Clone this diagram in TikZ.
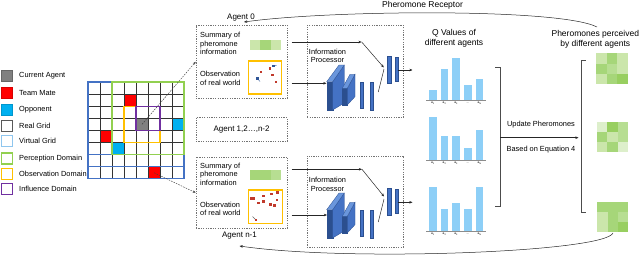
\documentclass[tikz,border=0pt]{standalone}
\usepackage{fontspec}
\setmainfont{Liberation Sans}
\usetikzlibrary{arrows.meta}
\definecolor{gBlue}{HTML}{4472C4}
\definecolor{dBlue}{HTML}{2B4F8F}
\definecolor{tBlue}{HTML}{6A96DC}
\definecolor{vBlue}{HTML}{8FC6EE}
\definecolor{qBlue}{HTML}{8DCFF7}
\definecolor{cyanO}{HTML}{00B0F0}
\definecolor{perG}{HTML}{92D050}
\definecolor{obsO}{HTML}{FFC000}
\definecolor{infP}{HTML}{7030A0}
\definecolor{redT}{HTML}{FF0000}
\definecolor{dotR}{HTML}{C0392B}
\definecolor{dotB}{HTML}{2F5597}
\definecolor{gA}{HTML}{DDEFCB}
\definecolor{gB}{HTML}{CBE6AB}
\definecolor{gC}{HTML}{B7DE92}
\definecolor{gD}{HTML}{A6D679}
\definecolor{gE}{HTML}{98CF60}
\newcommand\obsdot[3]{\fill[#3] ({#1-1.2},{#2-1.2}) rectangle ({#1+1.2},{#2+1.2});}
\newcommand\qchart[6]{%
  \fill[qBlue] (429,#1) rectangle (436.7,{#1-#2});
  \fill[qBlue] (440.7,#1) rectangle (448.3,{#1-#3});
  \fill[qBlue] (452.3,#1) rectangle (460,{#1-#4});
  \fill[qBlue] (464,#1) rectangle (471.7,{#1-#5});
  \fill[qBlue] (475.7,#1) rectangle (483.3,{#1-#6});
  \draw[black!45, line width=0.6pt] (426,#1) -- (486,#1);
  \node[tiny] at (432.9,{#1+3.6}) {a\textsubscript{1}};
  \node[tiny] at (444.5,{#1+3.6}) {a\textsubscript{2}};
  \node[tiny] at (456.2,{#1+3.6}) {a\textsubscript{3}};
  \node[tiny] at (467.9,{#1+3.6}) {...};
  \node[tiny] at (479.5,{#1+3.6}) {a\textsubscript{N}};
}
\newcommand\procnet[2]{%
  \begin{scope}[yshift=-#1pt]
    \filldraw[fill=dBlue, draw=dBlue] (326.7,81.7) rectangle (332.7,110);
    \filldraw[fill=gBlue, draw=dBlue, line width=0.3pt] (332.7,81.7) -- (344.3,65) -- (344.3,103) -- (332.7,110) -- cycle;
    \filldraw[fill=tBlue, draw=dBlue, line width=0.3pt] (326.7,81.7) -- (339,65) -- (344.3,65) -- (332.7,81.7) -- cycle;
    \filldraw[fill=dBlue, draw=dBlue] (342.3,88.3) rectangle (347.3,105);
    \filldraw[fill=gBlue, draw=dBlue, line width=0.3pt] (347.3,88.3) -- (355,74.3) -- (355,96.7) -- (347.3,105) -- cycle;
    \filldraw[fill=tBlue, draw=dBlue, line width=0.3pt] (342.3,88.3) -- (350,74.3) -- (355,74.3) -- (347.3,88.3) -- cycle;
    \filldraw[fill=gBlue, draw=dBlue, line width=0.4pt] (360,81.7) rectangle (362.7,108.3);
    \filldraw[fill=gBlue, draw=dBlue, line width=0.4pt] (370,82.3) rectangle (372.7,110);
  \end{scope}
  \begin{scope}[yshift=-#2pt]
    \filldraw[fill=gBlue, draw=dBlue, line width=0.4pt] (387.3,55.7) rectangle (390.7,82.7);
    \filldraw[fill=gBlue, draw=dBlue, line width=0.4pt] (395,57.3) rectangle (397.7,80.7);
  \end{scope}
}
\begin{document}
\begin{tikzpicture}[x=1pt,y=-1pt,
  fs/.style={font=\fontsize{7.4}{8.5}\selectfont, inner sep=0pt, align=left},
  fm/.style={font=\fontsize{8}{9.5}\selectfont, inner sep=0pt, align=center},
  fb/.style={font=\fontsize{8.5}{9.8}\selectfont, inner sep=0pt, align=center},
  tiny/.style={font=\fontsize{3.2}{3.5}\selectfont, inner sep=0pt},
  leg/.style={minimum size=11pt, inner sep=0pt, line width=1pt},
  dbox/.style={draw=black!55, dash pattern=on 1.2pt off 1.2pt, line width=0.5pt, inner sep=0pt},
  arr/.style={-{Stealth[length=3.2pt,width=2.6pt]}, line width=0.5pt, draw=black!85},
  dashln/.style={dash pattern=on 1.6pt off 1.1pt, line width=0.45pt, draw=black!75},
  gridK/.style={draw=black!80, line width=0.8pt},
  gridB/.style={draw=gBlue, line width=0.8pt}]
\useasboundingbox (0,0) rectangle (640,255);

% ---------------- legend ----------------
\node[leg, fill=black!50, draw=black!60] (lg1) at (7.2,75.7) {};
\node[fs, anchor=west] (lt1) at (19,75.7) {Current Agent};
\node[leg, fill=redT, draw=redT!85!black] (lg2) at (7.2,93) {};
\node[fs, anchor=west] (lt2) at (19,93) {Team Mate};
\node[leg, fill=cyanO, draw=cyanO!85!black] (lg3) at (7.2,110) {};
\node[fs, anchor=west] (lt3) at (19,110) {Opponent};
\node[leg, fill=white, draw=black!65] (lg4) at (7.2,125.7) {};
\node[fs, anchor=west] (lt4) at (19,125.7) {Real Grid};
\node[leg, fill=white, draw=vBlue] (lg5) at (7.2,141) {};
\node[fs, anchor=west] (lt5) at (19,141) {Virtual Grid};
\node[leg, fill=white, draw=perG, line width=1.3pt] (lg6) at (7.2,158.5) {};
\node[fs, anchor=west] (lt6) at (19,158.5) {Perception Domain};
\node[leg, fill=white, draw=obsO, line width=1.3pt] (lg7) at (7.2,174) {};
\node[fs, anchor=west] (lt7) at (19,174) {Observation Domain};
\node[leg, fill=white, draw=infP, line width=1.3pt] (lg8) at (7.2,189) {};
\node[fs, anchor=west] (lt8) at (19,189) {Influence Domain};

% ---------------- grid ----------------
\node[minimum width=12pt, minimum height=12.1pt, inner sep=0pt, fill=black!50] (agentcell) at (142,124.35) {};
\fill[redT] (124,94.1) rectangle (136,106.2);
\fill[redT] (100,130.4) rectangle (112,142.5);
\fill[cyanO] (112,142.5) rectangle (124,154.6);
\fill[cyanO] (172,118.3) rectangle (184,130.4);
\node[minimum width=12pt, minimum height=12.1pt, inner sep=0pt, fill=redT] (redcell) at (154,172.75) {};
\foreach \i in {1,...,7} \draw[gridK] ({88+12*\i},82) -- ({88+12*\i},178.8);
\foreach \j in {1,...,5} \draw[gridK] (88,{82+12.1*\j}) -- (184,{82+12.1*\j});
\foreach \j in {6,7} \draw[gridB] (88,{82+12.1*\j}) -- (184,{82+12.1*\j});
\draw[gBlue, line width=1.1pt] (88,82) rectangle (184,178.8);
\draw[perG, line width=1.3pt] (112,82) rectangle (184,154.6);
\draw[obsO, line width=1.3pt] (124,106.2) rectangle (160,142.5);
\draw[infP, line width=1.3pt] (136,106.2) rectangle (160,130.4);

% ---------------- agent 0 ----------------
\node[fm] (a0lab) at (241,18) {Agent 0};
\node[dbox, minimum width=91.3pt, minimum height=73pt, anchor=north west] (a0) at (195.7,25) {};
\node[fs, anchor=west] (a0sum) at (200,43.5) {Summary of\\pheromone\\information};
\fill[gB] (250,40) rectangle (260.3,50);
\fill[gD] (260.3,40) rectangle (270.6,50);
\fill[gB] (270.6,40) rectangle (281,50);
\node[fs, anchor=west] (a0obst) at (200,78.5) {Observation\\of real world};
\node[draw=obsO, line width=1.5pt, minimum width=33pt, minimum height=33pt, anchor=north west, inner sep=0pt] (a0obs) at (247.7,60) {};
\obsdot{260.7}{71.7}{dotR}
\obsdot{270}{68.3}{dotR}
\obsdot{272.3}{75}{dotR}
\obsdot{275.7}{81.7}{dotR}
\draw[dotB, line width=0.4pt] (273.3,66) -- (276.5,65.3);
\obsdot{273.3}{66}{dotB}
\draw[dotB, line width=0.4pt] (257.3,78.3) -- (260,81.5);
\obsdot{257.3}{78.3}{dotB}

% processor 0
\node[dbox, minimum width=96pt, minimum height=92pt, anchor=north west] (p0) at (307,25) {};
\node[fs, align=center] (p0t) at (327.5,56) {Information\\Processor};
\procnet{0}{0}
\coordinate (s0a) at (291.7,42);
\coordinate (s0b) at (361.7,42);
\coordinate (s0c) at (383.8,67.5);
\coordinate (o0a) at (291.7,83.3);
\coordinate (o0b) at (326.5,83.3);
\coordinate (b0a) at (378.3,92);
\coordinate (b0b) at (384,69);
\coordinate (q0a) at (397.7,70);
\coordinate (q0b) at (412.5,70);
\draw[arr] (s0a) -- (s0b);
\draw[arr] (s0b) -- (s0c);
\draw[arr] (o0a) -- (o0b);
\draw[line width=0.5pt, black!85] (b0a) -- (b0b);
\draw[arr] (q0a) -- (q0b);

% ---------------- middle agents ----------------
\node[dbox, minimum width=91.3pt, minimum height=23.7pt, anchor=north west] (am) at (195.7,117.3) {};
\node[fm] (amt) at (am.center) {Agent 1,2…,n-2};

% ---------------- agent n-1 ----------------
\node[dbox, minimum width=91.3pt, minimum height=71.6pt, anchor=north west] (a1) at (195.7,156.7) {};
\node[fs, anchor=west] (a1sum) at (200,174) {Summary of\\pheromone\\information};
\fill[gD] (250,170) rectangle (260.3,180);
\fill[gD] (260.3,170) rectangle (270.6,180);
\fill[gC] (270.6,170) rectangle (281,180);
\node[fs, anchor=west] (a1obst) at (200,209) {Observation\\of real world};
\node[draw=obsO, line width=1.5pt, minimum width=34pt, minimum height=33.7pt, anchor=north west, inner sep=0pt] (a1obs) at (247.7,189) {};
\fill[dotR] (250.3,197.3) rectangle (254.5,199.8);
\obsdot{263.6}{196}{dotR}
\obsdot{271.4}{193.7}{dotR}
\obsdot{258.6}{203}{dotR}
\obsdot{263.6}{201.6}{dotR}
\obsdot{270.4}{204.6}{dotR}
\obsdot{274.5}{205.3}{dotR}
\obsdot{277}{200.2}{dotR}
\obsdot{277.5}{192.3}{dotR}
\draw[black!60, line width=0.4pt] (252.5,216.5) -- (255.5,219.5);
\obsdot{255.8}{219.8}{dotR}
\node[fm] (a1lab) at (239.5,236) {Agent n-1};

% processor n-1
\node[dbox, minimum width=96.3pt, minimum height=91pt, anchor=north west] (p1) at (306.7,155.7) {};
\node[fs, align=center] (p1t) at (327.5,184.5) {Information\\Processor};
\procnet{128}{132}
\coordinate (s1a) at (291.7,169.3);
\coordinate (s1b) at (362,169.3);
\coordinate (s1c) at (384,196.5);
\coordinate (o1a) at (291.7,215);
\coordinate (o1b) at (327,215);
\coordinate (b1a) at (378.3,222);
\coordinate (b1b) at (384,199);
\coordinate (q1a) at (397.7,202.3);
\coordinate (q1b) at (412.5,202.3);
\draw[arr] (s1a) -- (s1b);
\draw[arr] (s1b) -- (s1c);
\draw[arr] (o1a) -- (o1b);
\draw[line width=0.5pt, black!85] (b1a) -- (b1b);
\draw[arr] (q1a) -- (q1b);

% ---------------- grid to agents ----------------
\draw[dashln, -{Stealth[length=3pt,width=2.4pt]}] (agentcell.center) -- (a0.west);
\draw[dashln, -{Stealth[length=3pt,width=2.4pt]}] (redcell.center) -- (a1.west);

% ---------------- Q values ----------------
\node[fb] (qt) at (454,38) {Q Values of\\different agents};
\qchart{100}{10}{31}{41.7}{15}{20.7}
\qchart{160}{43.3}{24}{24}{11.7}{30}
\qchart{231}{44.3}{22}{27.7}{22}{44.3}

% brackets
\coordinate (lbt) at (495,67.3);
\coordinate (lbtr) at (500,67.3);
\coordinate (lbbr) at (500,206.7);
\coordinate (lbb) at (495,206.7);
\draw[black!70, line width=0.6pt] (lbt) -- (lbtr) -- (lbbr) -- (lbb);
\coordinate (lbm) at (500,137.7);
\coordinate (rbm) at (578.5,137.7);
\draw[arr] (lbm) -- (rbm);
\coordinate (rbt) at (585.5,60);
\coordinate (rbtl) at (581,60);
\coordinate (rbbl) at (581,212.3);
\coordinate (rbb) at (585.5,212.3);
\draw[black!70, line width=0.6pt] (rbt) -- (rbtl) -- (rbbl) -- (rbb);
\node[fs, align=center] (upd) at (541,124.3) {Update Pheromones};
\node[fs, align=center] (eq) at (541,149.3) {Based on Equation 4};

% ---------------- pheromone matrices ----------------
\node[fb] (pt) at (595.3,39.2) {Pheromones perceived\\by different agents};
\foreach \c/\r/\k in {0/0/gB,1/0/gD,2/0/gB,0/1/gD,1/1/gC,2/1/gB,0/2/gB,1/2/gD,2/2/gE}
  \fill[\k] ({596+\c*10.55},{53.3+\r*10.23}) rectangle +(10.6,10.28);
\foreach \c/\r/\k in {0/0/gA,1/0/gE,2/0/gC,0/1/gD,1/1/gB,2/1/gC,0/2/gB,1/2/gD,2/2/gA}
  \fill[\k] ({596.7+\c*10.53},{122.3+\r*10}) rectangle +(10.58,10.05);
\foreach \c/\r/\k in {0/0/gD,1/0/gD,2/0/gD,0/1/gB,1/1/gD,2/1/gC,0/2/gB,1/2/gD,2/2/gE}
  \fill[\k] ({597.3+\c*10.33},{201.7+\r*10}) rectangle +(10.38,10.05);

% ---------------- feedback curves ----------------
\node[fb] (prt) at (422.5,5.5) {Pheromone Receptor};
\coordinate (prS) at (597,27);
\coordinate (prE) at (244,22);
\draw[arr] (prS) .. controls (560,8) and (330,10) .. (prE);
\coordinate (bcS) at (613,233);
\coordinate (bcE) at (239.5,246);
\draw[arr] (bcS) .. controls (605,252) and (350,262) .. (bcE);
\end{tikzpicture}
\end{document}
